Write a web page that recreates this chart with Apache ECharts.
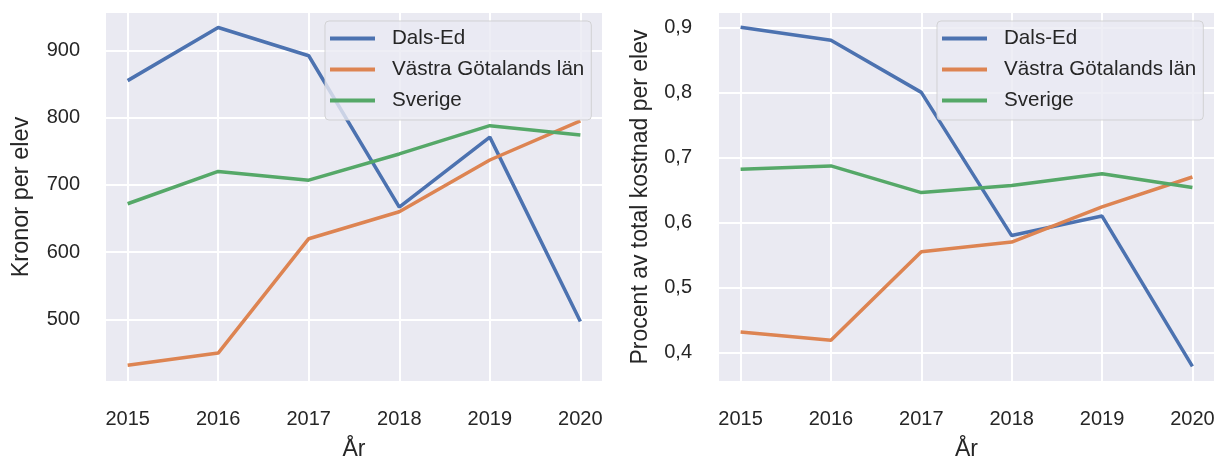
<!DOCTYPE html>
<html>
<head>
<meta charset="utf-8">
<script src="https://cdn.jsdelivr.net/npm/echarts@6/dist/echarts.min.js"></script>
<style>
html,body{margin:0;padding:0;background:#fff;}
#chart{width:1217px;height:459px;}
</style>
</head>
<body>
<div id="chart"></div>
<script>
const years = [2015, 2016, 2017, 2018, 2019, 2020];
const seriesNames = ['Dals-Ed', 'Västra Götalands län', 'Sverige'];
const kronorDalsEd = [855, 934, 892, 667, 771, 497];
const kronorVG = [432, 450, 620, 660, 737, 795];
const kronorSverige = [672, 720, 707, 746, 788, 774];
const procentDalsEd = [0.900, 0.880, 0.800, 0.580, 0.610, 0.379];
const procentVG = [0.432, 0.419, 0.555, 0.570, 0.624, 0.670];
const procentSverige = [0.682, 0.687, 0.646, 0.657, 0.675, 0.654];
const xLabel = 'År';
const yLabelLeft = 'Kronor per elev';
const yLabelRight = 'Procent av total kostnad per elev';

const colors = ['#4C72B0', '#DD8452', '#55A868'];
const FONT = '"Liberation Sans", Arial, sans-serif';
const TXT = '#262626';

function pairs(vals) { return years.map((y, i) => [y, vals[i]]); }

const chart = echarts.init(document.getElementById('chart'), null, {renderer: 'canvas'});

function xAxisFor(gi) {
  return {
    type: 'value', gridIndex: gi, min: 2014.75, max: 2020.25, splitNumber: 5,
    name: xLabel, nameLocation: 'middle', nameGap: 56,
    nameTextStyle: {fontFamily: FONT, fontSize: 23, color: TXT},
    axisLine: {show: false}, axisTick: {show: false},
    axisLabel: {
      fontFamily: FONT, fontSize: 20, color: TXT, margin: 27,
      formatter: v => (Math.abs(v - Math.round(v)) < 1e-6 ? String(Math.round(v)) : '')
    },
    splitLine: {show: true, lineStyle: {color: '#ffffff', width: 2}}
  };
}

const option = {
  animation: false,
  backgroundColor: '#ffffff',
  color: colors,
  grid: [
    {left: 105, top: 12, width: 498, height: 370, show: true, backgroundColor: '#EAEAF2', borderWidth: 0, containLabel: false, outerBoundsMode: 'none'},
    {left: 718, top: 12, width: 497, height: 370, show: true, backgroundColor: '#EAEAF2', borderWidth: 0, containLabel: false, outerBoundsMode: 'none'}
  ],
  xAxis: [xAxisFor(0), xAxisFor(1)],
  yAxis: [
    {
      type: 'value', gridIndex: 0, min: 407, max: 957, splitNumber: 5,
      name: yLabelLeft, nameLocation: 'middle', nameGap: 71,
      nameTextStyle: {fontFamily: FONT, fontSize: 23.5, color: TXT},
      axisLine: {show: false}, axisTick: {show: false},
      axisLabel: {
        fontFamily: FONT, fontSize: 20, color: TXT, margin: 25,
        formatter: v => (Math.abs(v / 100 - Math.round(v / 100)) < 1e-6 ? String(Math.round(v)) : '')
      },
      splitLine: {show: true, lineStyle: {color: '#ffffff', width: 2}}
    },
    {
      type: 'value', gridIndex: 1, min: 0.355, max: 0.9235, splitNumber: 5,
      name: yLabelRight, nameLocation: 'middle', nameGap: 66,
      nameTextStyle: {fontFamily: FONT, fontSize: 23, color: TXT},
      axisLine: {show: false}, axisTick: {show: false},
      axisLabel: {
        fontFamily: FONT, fontSize: 20, color: TXT, margin: 26,
        formatter: v => (Math.abs(v * 10 - Math.round(v * 10)) < 1e-6 ? (Math.round(v * 10) / 10).toFixed(1).replace('.', ',') : '')
      },
      splitLine: {show: true, lineStyle: {color: '#ffffff', width: 2}}
    }
  ],
  legend: [325, 937].map(l => ({
    data: seriesNames,
    orient: 'vertical', left: l, top: 21,
    padding: [7, 7, 9, 5],
    itemGap: 10, itemWidth: 45, itemHeight: 4, icon: 'rect',
    backgroundColor: 'rgba(234,234,242,0.8)',
    borderColor: 'rgba(204,204,204,0.8)', borderWidth: 1, borderRadius: 4,
    textStyle: {fontFamily: FONT, fontSize: 20.6, lineHeight: 20, color: TXT, padding: [0, 0, 0, 12]},
    selectedMode: false
  })),
  series: [
    {name: seriesNames[0], data: pairs(kronorDalsEd), xAxisIndex: 0, yAxisIndex: 0},
    {name: seriesNames[1], data: pairs(kronorVG), xAxisIndex: 0, yAxisIndex: 0},
    {name: seriesNames[2], data: pairs(kronorSverige), xAxisIndex: 0, yAxisIndex: 0},
    {name: seriesNames[0], data: pairs(procentDalsEd), xAxisIndex: 1, yAxisIndex: 1},
    {name: seriesNames[1], data: pairs(procentVG), xAxisIndex: 1, yAxisIndex: 1},
    {name: seriesNames[2], data: pairs(procentSverige), xAxisIndex: 1, yAxisIndex: 1}
  ].map((s, i) => Object.assign(s, {
    type: 'line', showSymbol: false, symbol: 'none',
    lineStyle: {width: 3.5, color: colors[i % 3]},
    itemStyle: {color: colors[i % 3]}
  }))
};
chart.setOption(option);
</script>
</body>
</html>
